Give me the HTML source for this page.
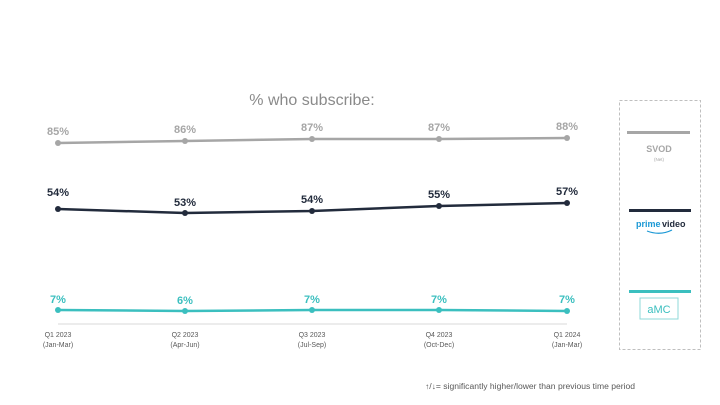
<!DOCTYPE html><html><head><style>body{margin:0;background:#fff}svg{display:block;font-family:"Liberation Sans",sans-serif}</style></head><body>
<svg width="720" height="405" viewBox="0 0 720 405">
<text x="312" y="105" text-anchor="middle" font-size="16" fill="#8a8a8a">% who subscribe:</text>
<line x1="58" y1="324" x2="567" y2="324" stroke="#d9d9d9" stroke-width="1"/>
<g font-size="7" fill="#595959" text-anchor="middle">
<text x="58" y="337">Q1 2023</text><text x="58" y="347">(Jan-Mar)</text>
<text x="185" y="337">Q2 2023</text><text x="185" y="347">(Apr-Jun)</text>
<text x="312" y="337">Q3 2023</text><text x="312" y="347">(Jul-Sep)</text>
<text x="439" y="337">Q4 2023</text><text x="439" y="347">(Oct-Dec)</text>
<text x="567" y="337">Q1 2024</text><text x="567" y="347">(Jan-Mar)</text>
</g>
<polyline points="58,143 185,141 312,139 439,139 567,138" fill="none" stroke="#a6a6a6" stroke-width="2.5"/>
<g fill="#a6a6a6"><circle cx="58" cy="143" r="3"/><circle cx="185" cy="141" r="3"/><circle cx="312" cy="139" r="3"/><circle cx="439" cy="139" r="3"/><circle cx="567" cy="138" r="3"/></g>
<g font-size="11" font-weight="bold" fill="#a6a6a6" text-anchor="middle"><text x="58" y="135">85%</text><text x="185" y="133">86%</text><text x="312" y="131">87%</text><text x="439" y="131">87%</text><text x="567" y="130">88%</text></g>
<polyline points="58,209 185,213 312,211 439,206 567,203" fill="none" stroke="#222b3c" stroke-width="2.5"/>
<g fill="#222b3c"><circle cx="58" cy="209" r="3"/><circle cx="185" cy="213" r="3"/><circle cx="312" cy="211" r="3"/><circle cx="439" cy="206" r="3"/><circle cx="567" cy="203" r="3"/></g>
<g font-size="11" font-weight="bold" fill="#222b3c" text-anchor="middle"><text x="58" y="196">54%</text><text x="185" y="206">53%</text><text x="312" y="203">54%</text><text x="439" y="198">55%</text><text x="567" y="195">57%</text></g>
<polyline points="58,310 185,311 312,310 439,310 567,311" fill="none" stroke="#3bbfbf" stroke-width="2.5"/>
<g fill="#3bbfbf"><circle cx="58" cy="310" r="3"/><circle cx="185" cy="311" r="3"/><circle cx="312" cy="310" r="3"/><circle cx="439" cy="310" r="3"/><circle cx="567" cy="311" r="3"/></g>
<g font-size="11" font-weight="bold" fill="#3bbfbf" text-anchor="middle"><text x="58" y="303">7%</text><text x="185" y="304">6%</text><text x="312" y="303">7%</text><text x="439" y="303">7%</text><text x="567" y="303">7%</text></g>
<rect x="619.5" y="100.5" width="81" height="249" fill="none" stroke="#bfbfbf" stroke-dasharray="3,2"/>
<rect x="627" y="131" width="63" height="3" fill="#a6a6a6"/>
<text x="659" y="152" text-anchor="middle" font-size="9" font-weight="bold" fill="#a6a6a6">SVOD</text>
<text x="659" y="161" text-anchor="middle" font-size="4.5" fill="#a6a6a6">(Net)</text>
<rect x="629" y="209" width="62" height="3" fill="#222b3c"/>
<text x="636" y="227" font-size="9" font-weight="bold" fill="#1a98d5">prime</text><text x="662" y="227" font-size="9" font-weight="bold" fill="#222b3c">video</text>
<path d="M647 231 Q660 236 672 230" fill="none" stroke="#1a98d5" stroke-width="1.2"/>
<rect x="629" y="290" width="62" height="3" fill="#3bbfbf"/>
<rect x="640" y="298" width="38" height="21" fill="none" stroke="#8fd9d9" stroke-width="1"/>
<text x="659" y="313" text-anchor="middle" font-size="11" fill="#3bbfbf">aMC</text>
<text x="425" y="389" font-size="8" textLength="210" lengthAdjust="spacingAndGlyphs" fill="#595959">↑/↓= significantly higher/lower than previous time period</text>
</svg></body></html>
